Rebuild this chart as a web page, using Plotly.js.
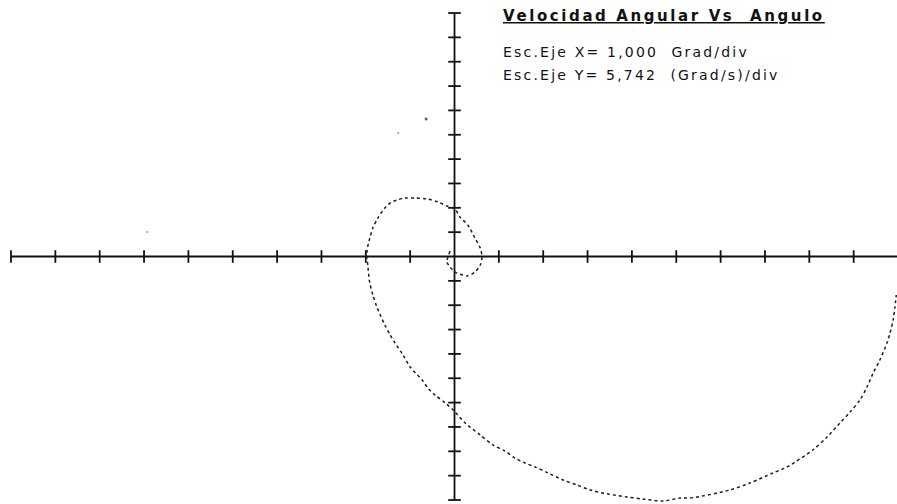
<!DOCTYPE html>
<html>
<head>
<meta charset="utf-8">
<script src="https://cdn.plot.ly/plotly-3.0.1.min.js"></script>
<style>
  html, body { margin: 0; padding: 0; background: #ffffff; }
  #chart { width: 897px; height: 504px; }
</style>
</head>
<body>
<div id="chart"></div>
<script>
// Axis scales (units per division), as printed in the legend text
const X_SCALE = 1.000;   // Grad/div
const Y_SCALE = 5.742;   // (Grad/s)/div

// Division marks along each axis
const xDivs = [-10, -9, -8, -7, -6, -5, -4, -3, -2, -1, 0, 1, 2, 3, 4, 5, 6, 7, 8, 9, 10];
const yDivs = [-10, -9, -8, -7, -6, -5, -4, -3, -2, -1, 0, 1, 2, 3, 4, 5, 6, 7, 8, 9, 10];

// Phase trajectory: angle (Grad) and angular velocity (Grad/s)
const angle = [
  -0.10, -0.17, -0.10, 0.01, 0.12, 0.28, 0.46, 0.58, 0.62, 0.58,
  0.46, 0.30, 0.12, 0.01, -0.17, -0.37, -0.62, -0.89, -1.12, -1.30,
  -1.45, -1.57, -1.73, -1.84, -1.91, -1.97, -1.97, -1.95, -1.91, -1.84,
  -1.75, -1.57, -1.45, -1.34, -1.16, -1.00, -0.73, -0.60, -0.44, -0.21,
  -0.03, 0.24, 0.58, 0.87, 1.14, 1.36, 1.59, 1.82, 2.11, 2.45,
  2.76, 3.06, 3.46, 3.89, 4.25, 4.70, 5.09, 5.31, 6.21, 6.66,
  7.18, 7.50, 7.68, 8.08, 8.40, 8.69, 8.92, 9.14, 9.30, 9.44,
  9.59, 9.75, 9.82, 9.89, 9.93, 9.96
];
const angVel = [
  1.30, -1.30, -2.47, -3.66, -4.13, -4.60, -3.66, -2.00, -0.12, 2.00,
  4.36, 7.43, 9.31, 11.20, 11.91, 12.85, 13.56, 13.79, 13.79, 13.32,
  12.62, 11.44, 9.08, 6.72, 4.36, 1.53, -0.12, -2.71, -6.25, -9.08,
  -11.91, -16.15, -18.51, -20.40, -23.23, -26.06, -29.12, -31.01, -32.66, -34.54,
  -36.20, -39.26, -42.09, -44.45, -45.87, -47.51, -48.69, -49.64, -51.05, -52.71,
  -53.88, -55.06, -56.01, -56.71, -57.18, -57.66, -56.95, -56.95, -55.06, -53.41,
  -51.05, -49.64, -48.46, -45.63, -42.56, -39.26, -36.67, -33.84, -30.77, -27.47,
  -24.40, -20.40, -18.04, -14.98, -11.91, -9.08
];

// Isolated plotted points away from the trajectory
const strayAngle = [-0.64, -1.27, -6.93];
const strayVel = [32.42, 29.12, 5.78];

// Text
const titleText = 'Velocidad Angular Vs  Angulo';
const scaleXText = 'Esc.Eje X= 1,000  Grad/div';
const scaleYText = 'Esc.Eje Y= 5,742  (Grad/s)/div';

const INK = '#111111';

const xTickPos = xDivs.filter(d => d !== 0).map(d => d * X_SCALE);
const yTickPos = yDivs.filter(d => d !== 0).map(d => d * Y_SCALE);

const traces = [
  { // horizontal axis
    x: [xDivs[0] * X_SCALE, xDivs[xDivs.length - 1] * X_SCALE], y: [0, 0],
    mode: 'lines', line: { color: INK, width: 1.8 }, hoverinfo: 'skip'
  },
  { // vertical axis
    x: [0, 0], y: [yDivs[0] * Y_SCALE, yDivs[yDivs.length - 1] * Y_SCALE],
    mode: 'lines', line: { color: INK, width: 1.8 }, hoverinfo: 'skip'
  },
  { // division marks on the horizontal axis
    x: xTickPos, y: xTickPos.map(() => 0),
    mode: 'markers',
    marker: { symbol: 'line-ns', size: 9, color: INK, line: { color: INK, width: 1.8 } },
    hoverinfo: 'skip'
  },
  { // division marks on the vertical axis
    x: yTickPos.map(() => 0), y: yTickPos,
    mode: 'markers',
    marker: { symbol: 'line-ew', size: 9, color: INK, line: { color: INK, width: 1.8 } },
    hoverinfo: 'skip'
  },
  { // trajectory
    x: angle, y: angVel,
    mode: 'lines',
    line: { color: '#1c1c1c', width: 1.5, dash: '3px,3px', shape: 'spline', smoothing: 0.8 },
    hoverinfo: 'skip'
  },
  { // stray points
    x: strayAngle, y: strayVel,
    mode: 'markers',
    marker: { color: '#1c1c1c', size: [4, 2.5, 2.5] },
    hoverinfo: 'skip'
  }
];

const layout = {
  width: 897, height: 504,
  margin: { l: 0, r: 0, t: 0, b: 0, pad: 0 },
  paper_bgcolor: '#ffffff', plot_bgcolor: '#ffffff',
  showlegend: false,
  xaxis: { range: [-10.248, 9.977], visible: false, showgrid: false, zeroline: false, fixedrange: true },
  yaxis: { range: [-58.36, 60.49], visible: false, showgrid: false, zeroline: false, fixedrange: true },
  annotations: [
    {
      xref: 'paper', yref: 'paper', x: 501 / 897, y: 1 - 16 / 504,
      xanchor: 'left', yanchor: 'middle', showarrow: false,
      text: '<span style="letter-spacing:2.6px"><u>' + titleText + '</u></span>',
      font: { family: 'DejaVu Sans', size: 15, color: INK, weight: 'bold' }
    },
    {
      xref: 'paper', yref: 'paper', x: 501 / 897, y: 1 - 52 / 504,
      xanchor: 'left', yanchor: 'middle', showarrow: false,
      text: '<span style="letter-spacing:2.2px">' + scaleXText + '</span>',
      font: { family: 'DejaVu Sans', size: 14, color: INK }
    },
    {
      xref: 'paper', yref: 'paper', x: 501 / 897, y: 1 - 75 / 504,
      xanchor: 'left', yanchor: 'middle', showarrow: false,
      text: '<span style="letter-spacing:2.2px">' + scaleYText + '</span>',
      font: { family: 'DejaVu Sans', size: 14, color: INK }
    }
  ]
};

Plotly.newPlot('chart', traces, layout, { staticPlot: true, displayModeBar: false });
</script>
</body>
</html>
